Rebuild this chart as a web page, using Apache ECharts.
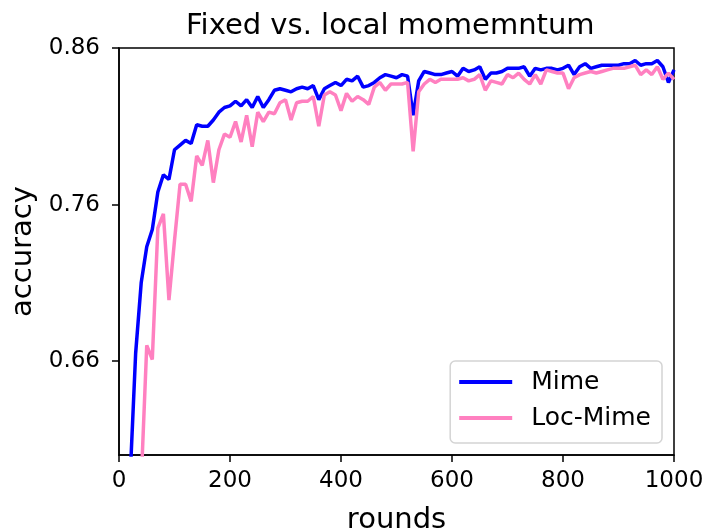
<!DOCTYPE html>
<html>
<head>
<meta charset="utf-8">
<script src="https://cdn.jsdelivr.net/npm/echarts@6/dist/echarts.min.js"></script>
<style>html,body{margin:0;padding:0;background:#fff;}#c{width:710px;height:532px;}</style>
</head>
<body>
<div id="c"></div>
<script>
var rounds = [20,30,40,50,60,70,80,90,
100,110,120,130,140,150,160,170,180,190,
200,210,220,230,240,250,260,270,280,290,
300,310,320,330,340,350,360,370,380,390,
400,410,420,430,440,450,460,470,480,490,
500,510,520,530,540,550,560,570,580,590,
600,610,620,630,640,650,660,670,680,690,
700,710,720,730,740,750,760,770,780,790,
800,810,820,830,840,850,860,870,880,890,
900,910,920,930,940,950,960,970,980,990,
1000];

var mime = [0.585,0.665,0.710,0.733,0.744,0.768,0.779,0.776,
0.795,0.798,0.801,0.799,0.811,0.810,0.810,0.814,0.819,0.822,
0.823,0.826,0.823,0.827,0.822,0.829,0.822,0.827,0.833,0.834,
0.833,0.832,0.834,0.835,0.834,0.836,0.827,0.834,0.836,0.838,
0.836,0.840,0.839,0.842,0.835,0.836,0.838,0.841,0.843,0.842,
0.841,0.843,0.842,0.817,0.839,0.845,0.844,0.843,0.843,0.844,
0.845,0.842,0.847,0.845,0.846,0.848,0.840,0.844,0.844,0.845,
0.847,0.847,0.847,0.848,0.842,0.847,0.846,0.847,0.847,0.846,
0.847,0.849,0.843,0.848,0.850,0.847,0.848,0.849,0.849,0.849,
0.849,0.850,0.850,0.852,0.849,0.850,0.850,0.852,0.848,0.838,
0.846];

var locMime = [null,null,0.5825,0.670,0.661,0.745,0.754,0.699,
0.737,0.773,0.773,0.762,0.791,0.785,0.801,0.774,0.795,0.805,
0.803,0.813,0.800,0.817,0.797,0.819,0.813,0.819,0.818,0.825,
0.827,0.814,0.825,0.826,0.826,0.829,0.810,0.830,0.832,0.830,
0.820,0.831,0.826,0.829,0.827,0.824,0.835,0.838,0.833,0.837,
0.837,0.837,0.838,0.794,0.832,0.837,0.840,0.838,0.840,0.840,
0.840,0.840,0.841,0.839,0.840,0.843,0.833,0.839,0.838,0.837,
0.843,0.841,0.844,0.840,0.837,0.843,0.837,0.846,0.845,0.844,
0.844,0.834,0.841,0.843,0.844,0.845,0.844,0.845,0.846,0.847,
0.847,0.847,0.848,0.849,0.843,0.846,0.843,0.848,0.840,0.844,
0.840];

var yTicks = [0.66, 0.76, 0.86];
var xTickInterval = 200;

function pairs(xs, ys) {
  var out = [];
  for (var i = 0; i < xs.length; i++) out.push([xs[i], ys[i]]);
  return out;
}

var FONT = 'DejaVu Sans';
var chart = echarts.init(document.getElementById('c'), null, {renderer: 'canvas'});
chart.setOption({
  animation: false,
  backgroundColor: '#fff',
  title: {
    text: 'Fixed vs. local momemntum',
    left: 186, top: 12, padding: 0,
    textStyle: {fontFamily: FONT, fontSize: 29, fontWeight: 'normal', color: '#000'}
  },
  grid: {
    left: 119, right: 36, top: 48, bottom: 77,
    outerBoundsMode: 'none', containLabel: false,
    show: true, borderColor: '#000', borderWidth: 1.5, backgroundColor: 'transparent'
  },
  legend: {
    orient: 'vertical', right: 48, top: 361,
    backgroundColor: '#fff', borderColor: '#d4d4d4', borderWidth: 1.5, borderRadius: 5,
    padding: [6.5, 11, 10.5, 9],
    icon: 'rect', itemWidth: 53, itemHeight: 4, itemGap: 7,
    textStyle: {fontFamily: FONT, fontSize: 25, color: '#000', lineHeight: 29, padding: [0, 0, 0, 14]},
    data: ['Mime', 'Loc-Mime']
  },
  xAxis: {
    type: 'value', min: 0, max: 1000, interval: xTickInterval,
    name: 'rounds', nameLocation: 'middle', nameGap: 51,
    nameTextStyle: {fontFamily: FONT, fontSize: 29, color: '#000'},
    axisLine: {show: true, lineStyle: {color: '#000', width: 1.5}},
    axisTick: {show: true, inside: false, length: 7, lineStyle: {color: '#000', width: 1.5}},
    axisLabel: {margin: 15, fontFamily: FONT, fontSize: 23, color: '#000',
      formatter: function (v) { return String(v); }},
    splitLine: {show: false}
  },
  yAxis: {
    type: 'value', min: 0.6, max: 0.86,
    name: 'accuracy', nameLocation: 'middle', nameGap: 80, nameRotate: 90,
    nameTextStyle: {fontFamily: FONT, fontSize: 29, color: '#000'},
    axisLine: {show: true, lineStyle: {color: '#000', width: 1.5}},
    axisTick: {show: true, inside: false, length: 7, customValues: yTicks, lineStyle: {color: '#000', width: 1.5}},
    axisLabel: {margin: 19, fontFamily: FONT, fontSize: 23, color: '#000', customValues: yTicks,
      formatter: function (v) { return v.toFixed(2); }},
    splitLine: {show: false}
  },
  series: [
    {name: 'Mime', type: 'line', data: pairs(rounds, mime), symbol: 'none', clip: true,
      lineStyle: {color: '#0000ff', width: 3.5}, itemStyle: {color: '#0000ff'}},
    {name: 'Loc-Mime', type: 'line', data: pairs(rounds, locMime), symbol: 'none', clip: true,
      connectNulls: false,
      lineStyle: {color: '#ff80c0', width: 3.5}, itemStyle: {color: '#ff80c0'}}
  ]
});
</script>
</body>
</html>
